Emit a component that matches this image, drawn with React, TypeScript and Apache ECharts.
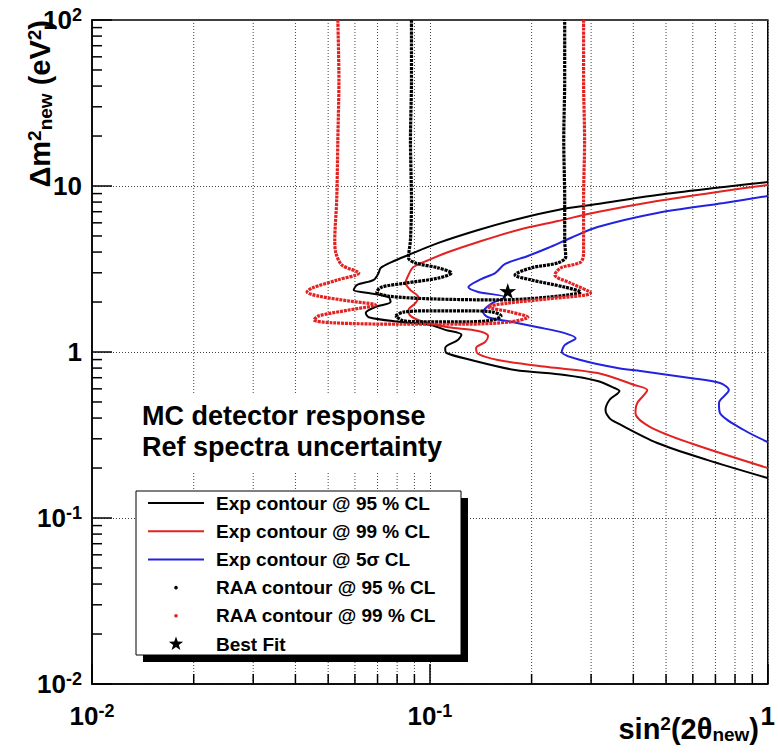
import React, { useEffect, useRef } from 'react';
import * as echarts from 'echarts';

const FONT = '"Liberation Sans", Arial, Helvetica, sans-serif';

// Axis ranges: sin^2(2θ_new) and Δm^2_new (eV^2)
const X_MIN = 0.01;
const X_MAX = 1;
const Y_MIN = 0.01;
const Y_MAX = 100;

// Minor tick / grid positions
const xMinorTicks = [0.02, 0.03, 0.04, 0.05, 0.06, 0.07, 0.08, 0.09, 0.2, 0.3, 0.4, 0.5, 0.6, 0.7, 0.8, 0.9];
const yMinorTicks = [
  0.02, 0.03, 0.04, 0.05, 0.06, 0.07, 0.08, 0.09,
  0.2, 0.3, 0.4, 0.5, 0.6, 0.7, 0.8, 0.9,
  2, 3, 4, 5, 6, 7, 8, 9,
  20, 30, 40, 50, 60, 70, 80, 90,
];

// Expected sensitivity contours [sin^2(2θ), Δm^2]
const exp95: [number, number][] = [
  [1.0, 10.57], [0.742, 9.86], [0.471, 8.83], [0.3135, 7.79], [0.239, 7.17], [0.1823, 6.33],
  [0.139, 5.43], [0.106, 4.54], [0.0864, 3.84], [0.077, 3.48], [0.0715, 3.21],
  [0.0705, 2.99], [0.0682, 2.72], [0.0608, 2.53], [0.0595, 2.36], [0.0659, 2.27], [0.0755, 2.14],
  [0.0765, 2.0], [0.0691, 1.87], [0.0646, 1.72], [0.0659, 1.62], [0.0808, 1.52], [0.101, 1.45],
  [0.111, 1.36], [0.124, 1.27], [0.121, 1.18], [0.111, 1.057], [0.112, 0.986], [0.1325, 0.895],
  [0.1786, 0.779], [0.2506, 0.727], [0.3135, 0.669], [0.352, 0.607], [0.364, 0.582], [0.34, 0.514],
  [0.331, 0.447], [0.34, 0.4], [0.359, 0.373], [0.471, 0.283], [0.661, 0.224], [1.0, 0.174],
];

const exp99: [number, number][] = [
  [1.0, 10.14], [0.742, 9.33], [0.471, 8.12], [0.3135, 6.97], [0.239, 6.15], [0.1823, 5.43],
  [0.139, 4.6], [0.1134, 4.0], [0.099, 3.58], [0.0894, 3.25], [0.0864, 2.91],
  [0.0847, 2.6], [0.0876, 2.36], [0.0925, 2.14], [0.0906, 1.97], [0.0864, 1.79], [0.0876, 1.65],
  [0.0957, 1.52], [0.1134, 1.41], [0.139, 1.34], [0.1487, 1.25], [0.1457, 1.15], [0.137, 1.057],
  [0.139, 0.973], [0.159, 0.895], [0.2234, 0.812], [0.3135, 0.747], [0.403, 0.633], [0.44, 0.59],
  [0.411, 0.493], [0.406, 0.429], [0.449, 0.353], [0.589, 0.283], [1.0, 0.2],
];

const exp5sigma: [number, number][] = [
  [1.0, 8.71], [0.742, 7.9], [0.471, 6.88], [0.3135, 5.66], [0.261, 4.86], [0.2234, 4.23],
  [0.195, 3.79], [0.167, 3.39], [0.156, 2.99], [0.1418, 2.75], [0.13, 2.46], [0.139, 2.3],
  [0.167, 2.14], [0.1518, 1.95], [0.1437, 1.74], [0.1487, 1.62], [0.1738, 1.52], [0.2088, 1.41],
  [0.2506, 1.3], [0.27, 1.21], [0.2506, 1.1], [0.2456, 1.0], [0.2794, 0.895], [0.359, 0.801],
  [0.42, 0.768], [0.589, 0.697], [0.722, 0.651], [0.767, 0.59], [0.717, 0.493], [0.722, 0.429],
  [0.85, 0.339], [1.0, 0.287],
];

// RAA allowed-region contours
const raa95: [number, number][] = [
  [0.0882, 100], [0.0882, 43.5], [0.0876, 18.9], [0.0882, 8.24], [0.0876, 4.73], [0.0864, 3.69],
  [0.0906, 3.44], [0.106, 3.21], [0.1157, 2.99], [0.106, 2.79], [0.0847, 2.6], [0.072, 2.46],
  [0.0696, 2.3], [0.0755, 2.17], [0.101, 2.09], [0.159, 2.06], [0.2234, 2.14], [0.2794, 2.3],
  [0.2506, 2.46], [0.199, 2.72], [0.1786, 2.91], [0.199, 3.21], [0.239, 3.44], [0.2524, 3.74],
  [0.2506, 4.73], [0.2506, 8.24], [0.249, 18.9], [0.2506, 43.5], [0.2506, 100],
];

const raa95Island: [number, number][] = [
  [0.0791, 1.65], [0.0835, 1.74], [0.099, 1.77], [0.13, 1.77], [0.1538, 1.74], [0.1624, 1.65],
  [0.1538, 1.56], [0.13, 1.52], [0.099, 1.52], [0.0835, 1.54], [0.0791, 1.65],
];

const raa99: [number, number][] = [
  [0.0534, 100], [0.0538, 43.5], [0.0534, 18.9], [0.053, 8.24], [0.0523, 4.73], [0.0527, 3.95],
  [0.0549, 3.34], [0.0616, 2.99], [0.0534, 2.72], [0.0448, 2.43], [0.0433, 2.3], [0.0469, 2.17],
  [0.0575, 2.03], [0.0691, 1.92], [0.0575, 1.79], [0.0469, 1.65], [0.0454, 1.56], [0.0513, 1.5],
  [0.0808, 1.47], [0.127, 1.47], [0.1738, 1.52], [0.195, 1.62], [0.1738, 1.74], [0.1487, 1.87],
  [0.17, 1.97], [0.2234, 2.09], [0.299, 2.27], [0.261, 2.6], [0.2343, 2.91], [0.244, 3.21],
  [0.2794, 3.48], [0.285, 3.95], [0.285, 8.24], [0.287, 18.9], [0.285, 43.5], [0.285, 100],
];

const bestFit: [number, number][] = [[0.17, 2.33]];

const legendLabels = [
  'Exp contour @ 95 % CL',
  'Exp contour @ 99 % CL',
  'Exp contour @ 5σ CL',
  'RAA contour @ 95 % CL',
  'RAA contour @ 99 % CL',
  'Best Fit',
];

const infoLines = ['MC detector response', 'Ref spectra uncertainty'];

const BLACK = '#000000';
const RED = '#e32222';
const BLUE = '#2222e0';

const STAR_PATH =
  'path://M50 0 L61.17 34.63 L97.55 34.55 L68.07 55.87 L79.39 90.45 L50 69 L20.61 90.45 L31.93 55.87 L2.45 34.55 L38.83 34.63 Z';

function starPoints(cx: number, cy: number, R: number, r: number): number[][] {
  const pts: number[][] = [];
  for (let i = 0; i < 10; i++) {
    const a = -Math.PI / 2 + (i * Math.PI) / 5;
    const rad = i % 2 === 0 ? R : r;
    pts.push([cx + rad * Math.cos(a), cy + rad * Math.sin(a)]);
  }
  return pts;
}

function powerLabel(v: number): string {
  const e = Math.round(Math.log10(v));
  if (e === 0) return '{b|1}';
  if (e === 1) return '{b|10}';
  return `{b|10}{s|${e}}`;
}

const tickRich = {
  b: { fontFamily: FONT, fontWeight: 'bold', fontSize: 26, lineHeight: 28, color: '#000' },
  s: { fontFamily: FONT, fontWeight: 'bold', fontSize: 18, lineHeight: 10, verticalAlign: 'top', color: '#000' },
};

const titleRich = {
  m: { fontFamily: FONT, fontWeight: 'bold', fontSize: 29, lineHeight: 30, color: '#000' },
  sup: { fontFamily: FONT, fontWeight: 'bold', fontSize: 19, lineHeight: 12, verticalAlign: 'top', color: '#000' },
  sub: { fontFamily: FONT, fontWeight: 'bold', fontSize: 19, lineHeight: 14, verticalAlign: 'bottom', color: '#000' },
};

export default function App() {
  const ref = useRef<HTMLDivElement>(null);

  useEffect(() => {
    if (!ref.current) return;
    const chart = echarts.init(ref.current, undefined, { renderer: 'svg' });

    const lineSeries = (name: string, data: [number, number][], color: string, dotted: boolean) => ({
      name,
      type: 'line',
      data,
      showSymbol: false,
      symbol: 'none',
      smooth: 0.3,
      silent: true,
      z: 3,
      lineStyle: dotted
        ? { color, width: 3.2, type: [3, 0.9] }
        : { color, width: 2 },
    });

    // Legend box drawn in the lower-left corner of the frame
    const lx = 136;
    const ly = 491;
    const lw = 325;
    const lh = 164;
    const shadow = 7;
    const rowY = (i: number) => ly + 12 + i * 28.2;
    const legendColors = [BLACK, RED, BLUE, BLACK, RED, BLACK];
    const legendEls: any[] = [
      { type: 'rect', z: 10, shape: { x: lx + shadow, y: ly + shadow, width: lw, height: lh }, style: { fill: '#000' } },
      { type: 'rect', z: 11, shape: { x: lx, y: ly, width: lw, height: lh }, style: { fill: '#fff', stroke: '#000', lineWidth: 1 } },
    ];
    legendLabels.forEach((label, i) => {
      const y = rowY(i);
      if (i < 3) {
        legendEls.push({ type: 'line', z: 12, shape: { x1: 148, y1: y, x2: 204, y2: y }, style: { stroke: legendColors[i], lineWidth: 2 } });
      } else if (i < 5) {
        legendEls.push({ type: 'circle', z: 12, shape: { cx: 176, cy: y, r: 1.8 }, style: { fill: legendColors[i] } });
      } else {
        legendEls.push({ type: 'polygon', z: 12, shape: { points: starPoints(176, y, 7.5, 3) }, style: { fill: '#000' } });
      }
      legendEls.push({
        type: 'text', z: 12, x: 216, y,
        style: { text: label, font: `bold 19px ${FONT}`, fill: '#000', align: 'left', verticalAlign: 'middle' },
      });
    });

    const option: any = {
      animation: false,
      backgroundColor: '#fff',
      grid: { left: 92, right: 7, top: 20, bottom: 71, show: true, borderColor: '#000', borderWidth: 1.5 },
      xAxis: {
        type: 'log',
        logBase: 10,
        min: X_MIN,
        max: X_MAX,
        axisLine: { show: true, lineStyle: { color: '#000', width: 1.5 } },
        axisTick: { show: true, inside: true, length: 20, lineStyle: { color: '#000', width: 1.5 } },
        splitLine: { show: true, lineStyle: { color: '#444', width: 1, type: [1, 2] } },
        axisLabel: { margin: 18, formatter: powerLabel, rich: tickRich },
      },
      yAxis: {
        type: 'log',
        logBase: 10,
        min: Y_MIN,
        max: Y_MAX,
        axisLine: { show: true, lineStyle: { color: '#000', width: 1.5 } },
        axisTick: { show: true, inside: true, length: 20, lineStyle: { color: '#000', width: 1.5 } },
        splitLine: { show: true, lineStyle: { color: '#444', width: 1, type: [1, 2] } },
        axisLabel: { margin: 10, formatter: powerLabel, rich: tickRich },
      },
      series: [
        {
          type: 'custom',
          silent: true,
          z: 1,
          data: xMinorTicks.map((v) => [v, Y_MIN]),
          renderItem: (_p: any, api: any) => {
            const v = api.value(0);
            const b = api.coord([v, Y_MIN]);
            const t = api.coord([v, Y_MAX]);
            return {
              type: 'group',
              children: [
                { type: 'line', shape: { x1: b[0], y1: b[1], x2: t[0], y2: t[1] }, style: { stroke: '#444', lineWidth: 1, lineDash: [1, 2] } },
                { type: 'line', shape: { x1: b[0], y1: b[1], x2: b[0], y2: b[1] - 10 }, style: { stroke: '#000', lineWidth: 1.5 } },
              ],
            };
          },
        },
        {
          type: 'custom',
          silent: true,
          z: 1,
          data: yMinorTicks.map((v) => [X_MIN, v]),
          renderItem: (_p: any, api: any) => {
            const p = api.coord([X_MIN, api.value(1)]);
            return { type: 'line', shape: { x1: p[0], y1: p[1], x2: p[0] + 10, y2: p[1] }, style: { stroke: '#000', lineWidth: 1.5 } };
          },
        },
        lineSeries('Exp contour @ 95 % CL', exp95, BLACK, false),
        lineSeries('Exp contour @ 99 % CL', exp99, RED, false),
        lineSeries('Exp contour @ 5σ CL', exp5sigma, BLUE, false),
        lineSeries('RAA contour @ 95 % CL', raa95, BLACK, true),
        lineSeries('RAA contour @ 95 % CL', raa95Island, BLACK, true),
        lineSeries('RAA contour @ 99 % CL', raa99, RED, true),
        {
          name: 'Best Fit',
          type: 'scatter',
          data: bestFit,
          symbol: STAR_PATH,
          symbolSize: 17,
          symbolKeepAspect: true,
          itemStyle: { color: '#000', opacity: 1 },
          silent: true,
          z: 6,
        },
      ],
      graphic: [
        // white pave behind the info text
        { type: 'rect', z: 10, shape: { x: 128, y: 393, width: 322, height: 80 }, style: { fill: '#fff' } },
        {
          type: 'text', z: 11, x: 142, y: 416,
          style: { text: infoLines[0], font: `bold 27px ${FONT}`, fill: '#000', align: 'left', verticalAlign: 'middle' },
        },
        {
          type: 'text', z: 11, x: 142, y: 447,
          style: { text: infoLines[1], font: `bold 27px ${FONT}`, fill: '#000', align: 'left', verticalAlign: 'middle' },
        },
        ...legendEls,
        {
          type: 'text', z: 12, x: 40, y: 20, rotation: Math.PI / 2,
          style: { text: '{m|Δm}{sup|2}{sub|new}{m| (eV}{sup|2}{m|)}', rich: titleRich, align: 'right', verticalAlign: 'middle' },
        },
        {
          type: 'text', z: 12, x: 759, y: 729,
          style: { text: '{m|sin}{sup|2}{m|(2θ}{sub|new}{m|)}', rich: titleRich, align: 'right', verticalAlign: 'middle' },
        },
      ],
    };

    chart.setOption(option);
    return () => chart.dispose();
  }, []);

  return <div ref={ref} style={{ position: 'absolute', left: 0, top: 0, width: 778, height: 755 }} />;
}
